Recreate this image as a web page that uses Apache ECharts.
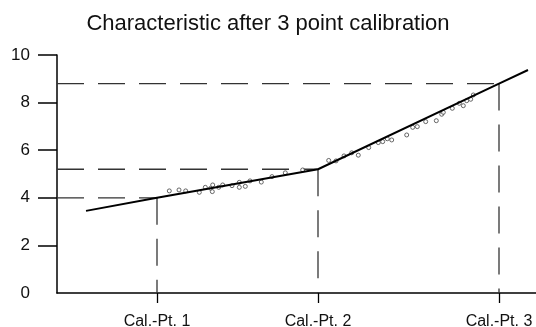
<!DOCTYPE html>
<html><head><meta charset="utf-8">
<script src="https://cdn.jsdelivr.net/npm/echarts@6/dist/echarts.min.js"></script>
<style>html,body{margin:0;padding:0;background:#fff}#c{width:536px;height:327px}</style>
</head><body><div id="c"></div>
<script>
var calX = [10, 26.1, 44.2];
var calY = [4, 5.2, 8.8];
var calNames = ['Cal.-Pt. 1', 'Cal.-Pt. 2', 'Cal.-Pt. 3'];
var yLabels = [0, 2, 4, 6, 8, 10];
var yTicks = [2, 4, 6, 8, 10];
var lineX = [2.9, 10, 26.1, 44.2, 47.1];
var lineY = [3.45, 4, 5.2, 8.8, 9.37];
var ptsX = [11.23,12.2,12.87,14.23,14.83,15.37,15.57,15.53,16.17,16.57,17.5,18.23,18.23,18.83,19.3,20.43,21.5,22.83,24.57,
  27.17,27.9,28.7,29.47,30.13,31.17,32.13,32.57,33.03,33.47,34.97,35.57,36.03,36.87,37.93,38.47,38.63,39.53,40.23,40.63,40.97,41.37,41.63];
var ptsY = [4.29,4.33,4.29,4.23,4.44,4.40,4.54,4.26,4.44,4.54,4.51,4.65,4.44,4.48,4.71,4.66,4.89,5.05,5.17,
  5.57,5.55,5.76,5.89,5.79,6.11,6.32,6.36,6.48,6.43,6.64,6.96,6.99,7.20,7.24,7.51,7.59,7.76,7.97,7.87,8.08,8.14,8.32];

var font = '"Liberation Sans", Arial, sans-serif';
var dashStyle = {color: '#333', width: 1.3, type: [27, 14]};
var series = [];
for (var i = 0; i < calX.length; i++) {
  series.push({type: 'line', data: [[0, calY[i]], [calX[i], calY[i]]], symbol: 'none', silent: true, lineStyle: dashStyle, z: 1});
  series.push({type: 'line', data: [[calX[i], calY[i]], [calX[i], 0]], symbol: 'none', silent: true, lineStyle: dashStyle, z: 1});
}
series.push({type: 'scatter', data: ptsX.map(function (x, k) { return [x, ptsY[k]]; }),
  symbol: 'circle', symbolSize: 4, itemStyle: {color: '#fff', borderColor: '#444', borderWidth: 1}, z: 3});
series.push({type: 'line', data: lineX.map(function (x, k) { return [x, lineY[k]]; }),
  symbol: 'none', lineStyle: {color: '#000', width: 2}, z: 4});

var chart = echarts.init(document.getElementById('c'));
chart.setOption({
  animation: false,
  backgroundColor: '#fff',
  title: {text: 'Characteristic after 3 point calibration', left: 'center', top: 8,
    textStyle: {fontFamily: font, fontSize: 22, fontWeight: 'normal', color: '#111'}},
  grid: {left: 57, top: 55, width: 480, height: 238, containLabel: false, outerBoundsMode: 'none'},
  xAxis: {type: 'value', min: 0, max: 48,
    axisLine: {lineStyle: {color: '#000', width: 1.5}},
    splitLine: {show: false},
    axisTick: {show: true, length: 10, customValues: calX, lineStyle: {color: '#000', width: 1.3}},
    axisLabel: {show: true, customValues: calX, margin: 21, fontFamily: font, fontSize: 16, color: '#111',
      formatter: function (v) { var i = calX.indexOf(v); return i >= 0 ? calNames[i] : ''; }}
  },
  yAxis: {type: 'value', min: 0, max: 10, interval: 2,
    axisLine: {show: true, lineStyle: {color: '#000', width: 1.5}},
    splitLine: {show: false},
    axisTick: {show: true, length: 19, customValues: yTicks, lineStyle: {color: '#000', width: 1.5}},
    axisLabel: {show: true, customValues: yLabels, margin: 27, fontFamily: font, fontSize: 17, color: '#111'}
  },
  series: series
});
</script></body></html>
